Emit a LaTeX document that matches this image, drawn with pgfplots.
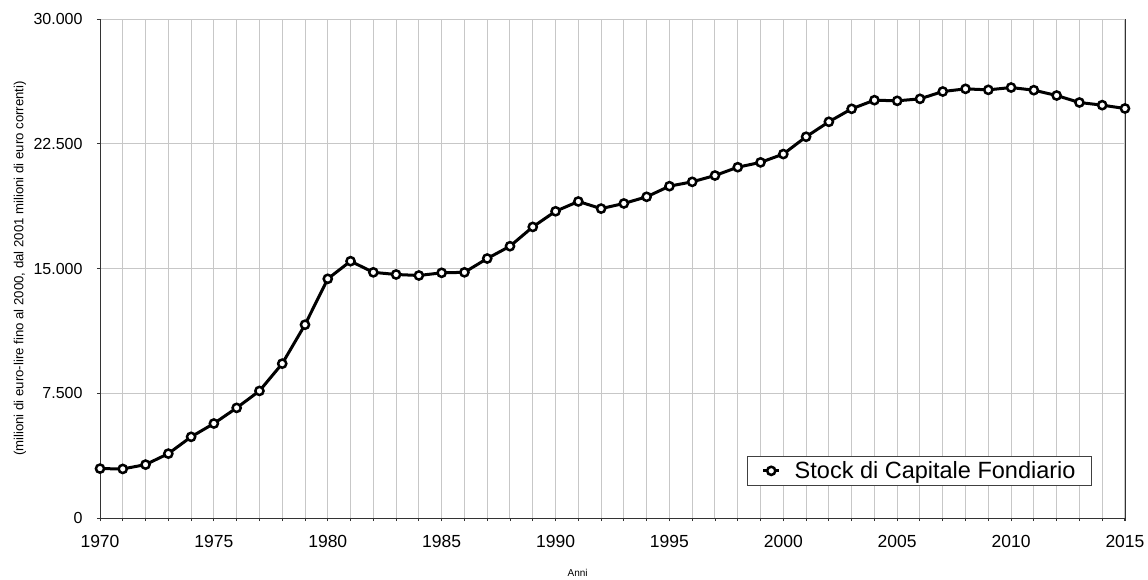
\documentclass[border=0pt]{standalone}
\usepackage{fontspec}
\setmainfont{Liberation Sans}
\usepackage{pgfplots}
\pgfplotsset{compat=1.18}
\begin{document}
\begin{tikzpicture}
\begin{axis}[
  scale only axis, width=1025pt, height=499pt,
  xmin=1970, xmax=2015, ymin=0, ymax=30000,
  xtick={1970,1975,...,2015}, minor xtick={1970,...,2015},
  ytick={0,7500,...,30000},
  axis x line*=bottom, axis y line*=box,
  xtick pos=bottom, ytick pos=left,
  grid=both,
  major grid style={draw=black!22, line width=0.9pt},
  minor grid style={draw=black!22, line width=0.9pt},
  axis line style={draw=black!80, line width=0.9pt},
  tick align=outside, major tick length=3pt, minor tick length=3pt,
  every tick/.style={draw=black!80, line width=0.8pt},
  clip=false,
  /pgf/number format/assume math mode=true,
  x tick label style={font=\fontsize{17.5}{20}\selectfont, yshift=-11pt, /pgf/number format/1000 sep={}},
  y tick label style={font=\fontsize{16}{19}\selectfont, xshift=-11pt, /pgf/number format/1000 sep={.}},
  scaled y ticks=false,
  xlabel={Anni},
  xlabel style={at={(axis description cs:0.466,0)}, anchor=center, yshift=-55pt, font=\fontsize{10}{12}\selectfont},
  ylabel={(milioni di euro-lire fino al 2000, dal 2001 milioni di euro correnti)},
  ylabel style={at={(axis description cs:-0.078,0.5)}, anchor=center, font=\fontsize{13.2}{15}\selectfont},
  legend style={at={(axis description cs:0.9678,0.0641)}, anchor=south east, draw=black!75, line width=0.8pt,
    font=\fontsize{23.5}{26}\selectfont, inner xsep=14pt, inner ysep=3.5pt, fill=white},
  legend cell align=left,
  legend image code/.code={\draw[mark repeat=2,mark phase=2,#1] plot coordinates {(0pt,0pt) (8pt,0pt) (16pt,0pt)};},
]
\addplot[black, line width=3pt, mark=*, mark size=4.1pt, mark options={fill=white, draw=black, line width=2.5pt}]
coordinates {
(1970,2970) (1971,2950) (1972,3210) (1973,3870) (1974,4880) (1975,5680)
(1976,6620) (1977,7640) (1978,9280) (1979,11620) (1980,14380) (1981,15440)
(1982,14770) (1983,14640) (1984,14580) (1985,14740) (1986,14770) (1987,15600)
(1988,16340) (1989,17500) (1990,18440) (1991,19030) (1992,18600) (1993,18910)
(1994,19310) (1995,19950) (1996,20210) (1997,20590) (1998,21090) (1999,21380)
(2000,21880) (2001,22920) (2002,23820) (2003,24600) (2004,25120) (2005,25080)
(2006,25200) (2007,25640) (2008,25800) (2009,25740) (2010,25880) (2011,25720)
(2012,25400) (2013,24980) (2014,24820) (2015,24620)
};
\addlegendentry{\hspace{12pt}Stock di Capitale Fondiario}
\end{axis}
\pgfresetboundingbox
\path (-100pt,-61pt) rectangle (1048pt,518pt);
\end{tikzpicture}
\end{document}
